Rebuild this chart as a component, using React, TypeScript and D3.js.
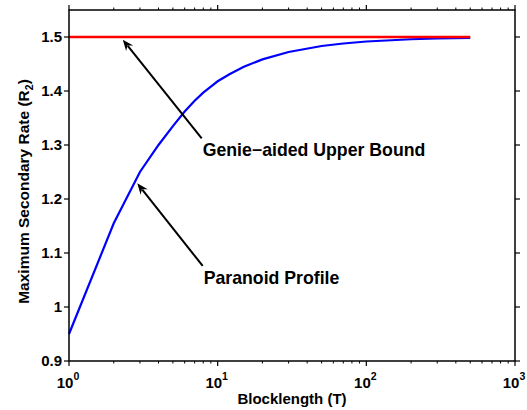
import React from 'react';
import * as d3 from 'd3';

// Paranoid profile: maximum secondary rate vs blocklength
const blocklengths = [1, 2, 3, 4, 5, 6, 7, 8, 9, 10, 12, 15, 20, 30, 50, 70, 100, 200, 300, 500];
const paranoidRates = [0.95, 1.155, 1.25, 1.3, 1.335, 1.362, 1.382, 1.397, 1.408, 1.418, 1.431, 1.445, 1.4585, 1.4723, 1.4834, 1.488, 1.4917, 1.4958, 1.4972, 1.4983];
const genieBound = 1.5;

const yTicks = [0.9, 1, 1.1, 1.2, 1.3, 1.4, 1.5];
const xDecades = [0, 1, 2, 3];

// annotation: [tipT, tipR, tailT, tailR, label]
const annotations: [number, number, number, number, string][] = [
  [2.3, 1.495, 7.81, 1.3124, 'Genie\u2212aided Upper Bound'],
  [2.88, 1.229, 7.93, 1.076, 'Paranoid Profile'],
];

const W = 527;
const H = 410;
const margin = { left: 69, right: 12, top: 10, bottom: 49 };
const font = '"Liberation Sans", Arial, Helvetica, sans-serif';

export default function App() {
  const x = d3.scaleLog().domain([1, 1000]).range([margin.left, W - margin.right]);
  const y = d3.scaleLinear().domain([0.9, 1.55]).range([H - margin.bottom, margin.top]);
  const [x0, x1] = x.range();
  const [y0, y1] = y.range();

  const line = d3.line<[number, number]>().x(d => x(d[0])).y(d => y(d[1]));
  const pts = blocklengths.map((t, i) => [t, paranoidRates[i]] as [number, number]);
  const redPts: [number, number][] = [[1, genieBound], [500, genieBound]];

  const minor: number[] = [];
  for (let d = 0; d < 3; d++) for (let k = 2; k <= 9; k++) minor.push(k * Math.pow(10, d));

  const arrowHead = (tx: number, ty: number, fx: number, fy: number) => {
    const ang = Math.atan2(ty - fy, tx - fx);
    const len = 11, half = 4.5, back = 7.5;
    const ux = Math.cos(ang), uy = Math.sin(ang);
    const px = -uy, py = ux;
    const bx = tx - ux * len, by = ty - uy * len;
    const nx = tx - ux * back, ny = ty - uy * back;
    return `M${tx},${ty}L${bx + px * half},${by + py * half}L${nx},${ny}L${bx - px * half},${by - py * half}Z`;
  };

  return (
    <svg width={W} height={H} style={{ position: 'absolute', left: 0, top: 0, background: '#fff' }} fontFamily={font} fontWeight="bold">
      <rect width={W} height={H} fill="#fff" />
      {/* data */}
      <path d={line(pts) ?? ''} fill="none" stroke="#0000ff" strokeWidth={2.2} />
      <path d={line(redPts) ?? ''} fill="none" stroke="#ff0000" strokeWidth={2.4} />

      {/* frame */}
      <rect x={x0} y={y1} width={x1 - x0} height={y0 - y1} fill="none" stroke="#000" strokeWidth={1.5} />

      {/* x ticks */}
      {xDecades.map(d => {
        const px = x(Math.pow(10, d));
        return (
          <g key={'xd' + d}>
            <line x1={px} x2={px} y1={y0} y2={y0 + 5} stroke="#000" strokeWidth={1.2} />
            <line x1={px} x2={px} y1={y1} y2={y1 - 5} stroke="#000" strokeWidth={1.2} />
            <text x={px - 1} y={y0 + 27} fontSize={15} textAnchor="middle">
              10<tspan fontSize={10.5} dy={-8}>{d}</tspan>
            </text>
          </g>
        );
      })}
      {minor.map(v => {
        const px = x(v);
        return (
          <g key={'xm' + v}>
            <line x1={px} x2={px} y1={y0} y2={y0 + 2.5} stroke="#000" strokeWidth={1} />
            <line x1={px} x2={px} y1={y1} y2={y1 - 2.5} stroke="#000" strokeWidth={1} />
          </g>
        );
      })}

      {/* y ticks */}
      {yTicks.map(v => {
        const py = y(v);
        return (
          <g key={'y' + v}>
            <line x1={x0} x2={x0 - 5} y1={py} y2={py} stroke="#000" strokeWidth={1.2} />
            <line x1={x1} x2={x1 + 5} y1={py} y2={py} stroke="#000" strokeWidth={1.2} />
            <text x={x0 - 7} y={py + 5} fontSize={15} textAnchor="end">{String(v)}</text>
          </g>
        );
      })}

      {/* annotations */}
      {annotations.map(([tt, tr, ft, fr, label]) => {
        const tx = x(tt), ty = y(tr), fx = x(ft), fy = y(fr);
        const ang = Math.atan2(ty - fy, tx - fx);
        const ex = tx - Math.cos(ang) * 8, ey = ty - Math.sin(ang) * 8;
        return (
          <g key={label}>
            <line x1={fx} y1={fy} x2={ex} y2={ey} stroke="#000" strokeWidth={2} />
            <path d={arrowHead(tx, ty, fx, fy)} fill="#000" />
            <text x={fx + 1} y={fy + 18} fontSize={17.7}>{label}</text>
          </g>
        );
      })}

      {/* axis labels */}
      <text x={(x0 + x1) / 2} y={404} fontSize={15} textAnchor="middle">Blocklength (T)</text>
      <text transform={`translate(29,${(y0 + y1) / 2 + 6}) rotate(-90)`} fontSize={15.5} textAnchor="middle">
        Maximum Secondary Rate (R<tspan fontSize={10.5} dy={4}>2</tspan><tspan dy={-4}>)</tspan>
      </text>
    </svg>
  );
}
